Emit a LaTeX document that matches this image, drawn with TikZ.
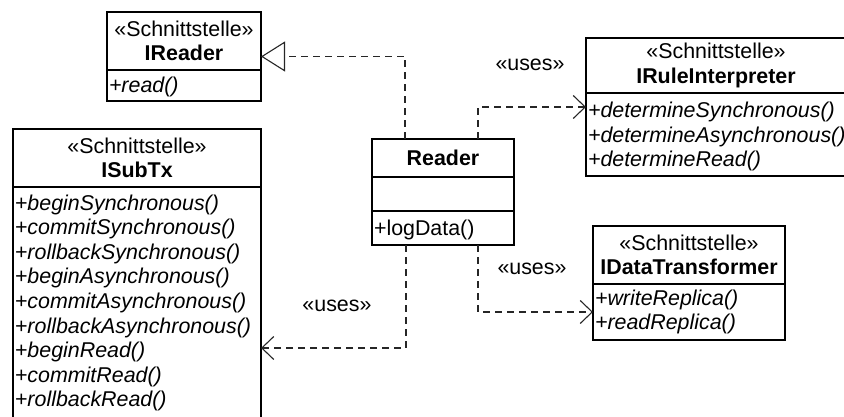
\documentclass[tikz,border=0pt]{standalone}
\usepackage{fontspec}
\setmainfont{Liberation Sans}
\usetikzlibrary{arrows.meta}

\begin{document}
\begin{tikzpicture}[x=1pt,y=-1pt,
  font=\fontsize{21.4}{24.6}\selectfont,
  every node/.style={outer sep=0pt},
  classbox/.style={draw, line width=1.6pt, inner sep=0pt, anchor=north west},
  classhead/.style={inner sep=0pt, align=center, anchor=north},
  classbody/.style={inner xsep=2pt, inner ysep=8pt, align=left, anchor=north},
  divider/.style={line width=1.6pt},
  depline/.style={draw=black!85, line width=1.1pt, dash pattern=on 7pt off 5pt},
  uses/.style={depline, -{Straight Barb[length=12pt,width=23pt,line width=1.1pt]}},
  realizes/.style={depline, -{Triangle[open,length=24pt,width=30pt,line width=1.1pt]}},
  stereolabel/.style={inner sep=0pt}
]
\useasboundingbox (0,0) rectangle (844,417);

% ---- IReader ----
\node[classbox, minimum width=154pt, minimum height=89pt] (ireader) at (107,12) {};
\node[classhead, minimum height=58pt, text width=154pt] (ireader-h) at (ireader.north)
  {«Schnittstelle»\\\textbf{IReader}};
\draw[divider] (ireader-h.south west) -- (ireader-h.south east);
\node[classbody, inner ysep=7pt, text width=150pt] (ireader-b) at (ireader-h.south)
  {\textit{+read()}};

% ---- ISubTx ----
\node[classbox, minimum width=248pt, minimum height=291pt] (isubtx) at (13,129) {};
\node[classhead, minimum height=58pt, text width=248pt] (isubtx-h) at (isubtx.north)
  {«Schnittstelle»\\\textbf{ISubTx}};
\draw[divider] (isubtx-h.south west) -- (isubtx-h.south east);
\node[classbody, inner ysep=7.5pt, text width=244pt] (isubtx-b) at (isubtx-h.south)
  {\itshape +beginSynchronous()\\+commitSynchronous()\\+rollbackSynchronous()\\
   +beginAsynchronous()\\+commitAsynchronous()\\+rollbackAsynchronous()\\
   +beginRead()\\+commitRead()\\+rollbackRead()};

% ---- Reader ----
\node[classbox, minimum width=142pt, minimum height=106pt] (reader) at (372,139) {};
\node[classhead, minimum height=38pt, text width=142pt] (reader-h) at (reader.north)
  {\textbf{Reader}};
\draw[divider] (reader-h.south west) -- (reader-h.south east);
\node[classbody, inner ysep=0pt, minimum height=34pt, text width=138pt] (reader-a) at (reader-h.south) {};
\draw[divider] (reader-a.south west) -- (reader-a.south east);
\node[classbody, inner ysep=8.5pt, text width=138pt] (reader-b) at (reader-a.south)
  {+logData()};

% ---- IRuleInterpreter ----
\node[classbox, minimum width=260pt, minimum height=138pt] (irule) at (586,38) {};
\node[classhead, minimum height=55pt, text width=260pt] (irule-h) at (irule.north)
  {«Schnittstelle»\\\textbf{IRuleInterpreter}};
\draw[divider] (irule-h.south west) -- (irule-h.south east);
\node[classbody, inner ysep=9pt, text width=256pt] (irule-b) at (irule-h.south)
  {\itshape +determineSynchronous()\\+determineAsynchronous()\\+determineRead()};

% ---- IDataTransformer ----
\node[classbox, minimum width=192pt, minimum height=114pt] (idt) at (593,226) {};
\node[classhead, minimum height=58pt, text width=192pt] (idt-h) at (idt.north)
  {«Schnittstelle»\\\textbf{IDataTransformer}};
\draw[divider] (idt-h.south west) -- (idt-h.south east);
\node[classbody, inner ysep=0pt, minimum height=56pt, text width=188pt] (idt-b) at (idt-h.south)
  {\itshape +writeReplica()\\+readReplica()};

% ---- dependencies ----
\draw[realizes] ([xshift=33pt]reader.north west) |- (ireader.east);
\draw[uses] ([xshift=106pt]reader.north west) |- (irule.west);
\draw[uses] ([xshift=106pt]reader.south west) |- (idt-b.west);
\draw[uses] ([xshift=34pt]reader.south west) |- ([yshift=-219pt]isubtx.north east);

\node[stereolabel] (uses-rule) at (530,65) {«uses»};
\node[stereolabel] (uses-idt) at (532,269) {«uses»};
\node[stereolabel] (uses-subtx) at (337,306) {«uses»};
\end{tikzpicture}
\end{document}
